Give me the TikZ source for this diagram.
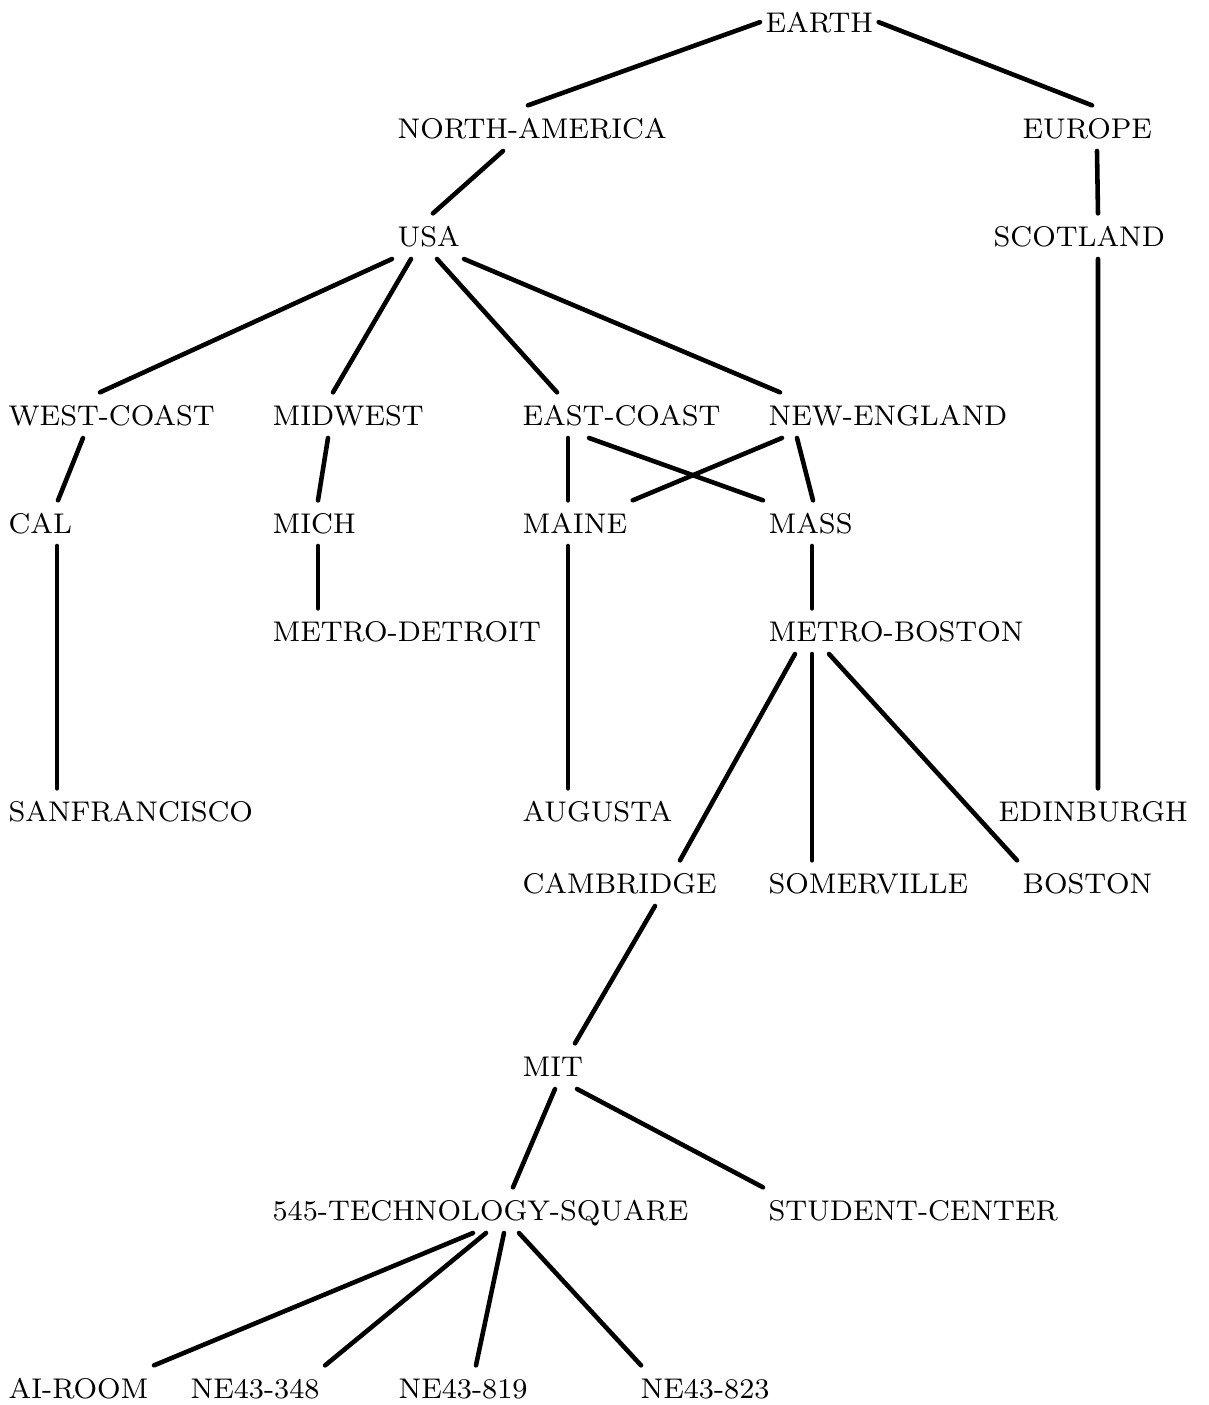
\documentclass[tikz,border=0pt]{standalone}
\usepackage{fontspec}
\usepackage{tikz}

\begin{document}
\begin{tikzpicture}[
        place/.style={anchor=base west,inner xsep=1.4pt,inner ysep=2.2pt,
                      text height=1.6ex,text depth=0.3ex,
                      font=\fontsize{8.1}{10}\selectfont},
        link/.style={line width=1.3pt,line cap=round}]
        \useasboundingbox (0,0) rectangle (12.09,-14.05);
        \foreach \n/\x/\y/\t in {earth/7.60/-0.32/EARTH,
            na/3.92/-1.38/NORTH-AMERICA, europe/10.17/-1.38/EUROPE,
            usa/3.92/-2.46/USA, scotland/9.88/-2.46/SCOTLAND,
            wc/0.03/-4.25/WEST-COAST, mw/2.67/-4.25/MIDWEST,
            ec/5.17/-4.25/EAST-COAST, ne/7.63/-4.25/NEW-ENGLAND,
            cal/0.03/-5.33/CAL, mich/2.67/-5.33/MICH,
            maine/5.17/-5.33/MAINE, mass/7.63/-5.33/MASS,
            md/2.67/-6.41/METRO-DETROIT, mb/7.63/-6.41/METRO-BOSTON,
            sf/0.03/-8.21/SANFRANCISCO, augusta/5.17/-8.21/AUGUSTA,
            edinburgh/9.93/-8.21/EDINBURGH,
            camb/5.17/-8.93/CAMBRIDGE, som/7.63/-8.93/SOMERVILLE,
            boston/10.17/-8.93/BOSTON,
            mit/5.17/-10.76/MIT,
            tech/2.67/-12.20/545-TECHNOLOGY-SQUARE, sc/7.63/-12.20/STUDENT-CENTER,
            ai/0.03/-13.98/AI-ROOM, n348/1.85/-13.98/NE43-348,
            n819/3.93/-13.98/NE43-819, n823/6.35/-13.98/NE43-823}{
          \node[place] (\n) at (\x,\y) {\t};
        }
        % top of the tree
        \draw[link] (earth.west) -- ([xshift=1.36cm]na.north west);
        \draw[link] (earth.east) -- ([xshift=0.75cm]europe.north west);
        \draw[link] ([xshift=0.80cm]europe.south west) -- ([xshift=1.10cm]scotland.north west);
        \draw[link] ([xshift=1.10cm]scotland.south west) -- ([xshift=1.05cm]edinburgh.north west);
        \draw[link] ([xshift=1.11cm]na.south west) -- ([xshift=0.41cm]usa.north west);
        % regions
        \draw[link] (usa.south west) -- ([xshift=0.97cm]wc.north west);
        \draw[link] ([xshift=0.19cm]usa.south west) -- ([xshift=0.66cm]mw.north west);
        \draw[link] ([xshift=0.45cm]usa.south west) -- ([xshift=0.40cm]ec.north west);
        \draw[link] ([xshift=0.72cm]usa.south west) -- ([xshift=0.17cm]ne.north west);
        % states
        \draw[link] ([xshift=0.80cm]wc.south west) -- ([xshift=0.55cm]cal.north west);
        \draw[link] ([xshift=0.54cm]cal.south west) -- ([xshift=0.54cm]sf.north west);
        \draw[link] ([xshift=0.61cm]mw.south west) -- ([xshift=0.51cm]mich.north west);
        \draw[link] ([xshift=0.51cm]mich.south west) -- ([xshift=0.51cm]md.north west);
        \draw[link] ([xshift=0.51cm]ec.south west) -- ([xshift=0.51cm]maine.north west);
        \draw[link] ([xshift=0.72cm]ec.south west) -- (mass.north west);
        \draw[link] ([xshift=0.51cm]maine.south west) -- ([xshift=0.51cm]augusta.north west);
        \draw[link] ([xshift=0.19cm]ne.south west) -- (maine.north east);
        \draw[link] ([xshift=0.34cm]ne.south west) -- ([xshift=0.50cm]mass.north west);
        \draw[link] ([xshift=0.49cm]mass.south west) -- ([xshift=0.49cm]mb.north west);
        % metro boston
        \draw[link] ([xshift=0.32cm]mb.south west) -- ([xshift=1.63cm]camb.north west);
        \draw[link] ([xshift=0.49cm]mb.south west) -- ([xshift=0.49cm]som.north west);
        \draw[link] ([xshift=0.66cm]mb.south west) -- (boston.north west);
        \draw[link] ([xshift=1.38cm]camb.south west) -- ([xshift=0.58cm]mit.north west);
        \draw[link] ([xshift=0.38cm]mit.south west) -- ([xshift=2.46cm]tech.north west);
        \draw[link] ([xshift=0.60cm]mit.south west) -- (sc.north west);
        % rooms
        \draw[link] ([xshift=2.06cm]tech.south west) -- (ai.north east);
        \draw[link] ([xshift=2.19cm]tech.south west) -- (n348.north east);
        \draw[link] ([xshift=2.37cm]tech.south west) -- ([xshift=0.83cm]n819.north west);
        \draw[link] ([xshift=2.52cm]tech.south west) -- ([xshift=0.06cm]n823.north west);
      \end{tikzpicture}
\end{document}
